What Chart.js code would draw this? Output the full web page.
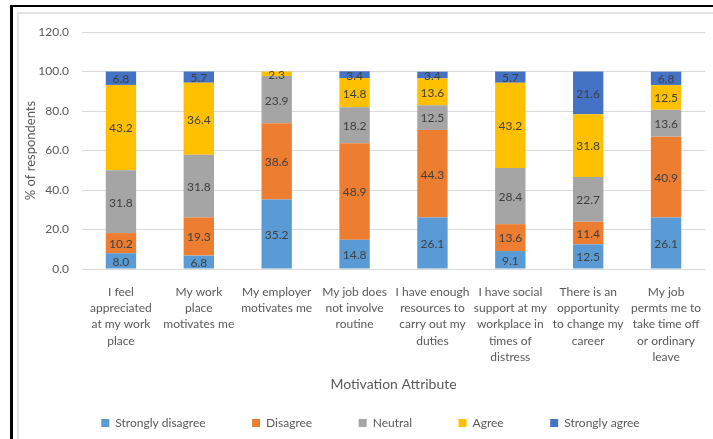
<!DOCTYPE html>
<html>
<head>
<meta charset="utf-8">
<script src="https://cdn.jsdelivr.net/npm/chart.js@4.4.0/dist/chart.umd.min.js"></script>
<style>
  body { margin: 0; background: #fff; }
  #wrap { position: relative; width: 713px; height: 439px; }
  .frame { position: absolute; right: 0; bottom: 0; pointer-events: none; }
  #outer { left: 10px; top: 5px; border-left: 3px solid #000; border-top: 2px solid #000; }
  #inner { left: 17px; top: 12px; border-left: 2px solid #e3e3e3; border-top: 2px solid #e3e3e3; }
</style>
</head>
<body>
<div id="wrap">
  <canvas id="chart"></canvas>
  <div class="frame" id="outer"></div>
  <div class="frame" id="inner"></div>
</div>
<script>
const categories = [
  ['I feel', 'appreciated', 'at my work', 'place'],
  ['My work', 'place', 'motivates me'],
  ['My employer', 'motivates me'],
  ['My job does', 'not involve', 'routine'],
  ['I have enough', 'resources to', 'carry out my', 'duties'],
  ['I have social', 'support at my', 'workplace in', 'times of', 'distress'],
  ['There is an', 'opportunity', 'to change my', 'career'],
  ['My job', 'permts me to', 'take time off', 'or ordinary', 'leave']
];
const stronglyDisagree = [8.0, 6.8, 35.2, 14.8, 26.1, 9.1, 12.5, 26.1];
const disagree         = [10.2, 19.3, 38.6, 48.9, 44.3, 13.6, 11.4, 40.9];
const neutral          = [31.8, 31.8, 23.9, 18.2, 12.5, 28.4, 22.7, 13.6];
const agree            = [43.2, 36.4, 2.3, 14.8, 13.6, 43.2, 31.8, 12.5];
const stronglyAgree    = [6.8, 5.7, 0, 3.4, 3.4, 5.7, 21.6, 6.8];
const yMin = 0, yMax = 120, yStep = 20;

const FONT = 'Lato, "Open Sans", sans-serif';

// writes the value in the middle of every segment
const segmentLabels = {
  id: 'segmentLabels',
  afterDatasetsDraw(chart) {
    const ctx = chart.ctx;
    ctx.save();
    ctx.font = '12px ' + FONT;
    ctx.fillStyle = '#404040';
    ctx.textAlign = 'center';
    ctx.textBaseline = 'middle';
    chart.data.datasets.forEach((ds, i) => {
      const meta = chart.getDatasetMeta(i);
      meta.data.forEach((bar, j) => {
        const v = ds.data[j];
        if (!v) return;
        ctx.fillText(v.toFixed(1), bar.x, (bar.y + bar.base) / 2 + 1);
      });
    });
    ctx.restore();
  }
};

function ds(label, data, color) {
  return { label, data, backgroundColor: color, borderWidth: 0 };
}

new Chart(document.getElementById('chart'), {
  type: 'bar',
  data: {
    labels: categories,
    datasets: [
      ds('Strongly disagree', stronglyDisagree, '#5B9BD5'),
      ds('Disagree', disagree, '#ED7D31'),
      ds('Neutral', neutral, '#A5A5A5'),
      ds('Agree', agree, '#FFC000'),
      ds('Strongly agree', stronglyAgree, '#4472C4')
    ]
  },
  options: {
    responsive: true,
    maintainAspectRatio: false,
    animation: false,
    datasets: { bar: { categoryPercentage: 1, barPercentage: 0.39 } },
    layout: { padding: { top: 32, left: 36, right: 8, bottom: 0 } },
    plugins: {
      tooltip: { enabled: false },
      legend: {
        position: 'bottom',
        labels: {
          boxWidth: 8,
          boxHeight: 8,
          padding: 12,
          color: '#595959',
          font: { family: FONT, size: 12 },
          generateLabels(chart) {
            const items = Chart.defaults.plugins.legend.labels.generateLabels(chart);
            items.forEach((it, i) => { if (i < items.length - 1) it.text += '\u2003\u2003\u2003\u2002\u2009'; });
            return items;
          }
        }
      }
    },
    scales: {
      x: {
        stacked: true,
        grid: { display: false },
        border: { display: false },
        ticks: {
          color: '#595959',
          padding: 7,
          maxRotation: 0,
          autoSkip: false,
          font: { family: FONT, size: 12, lineHeight: 1.35 }
        },
        title: {
          display: true,
          text: 'Motivation Attribute',
          color: '#595959',
          font: { family: FONT, size: 14 },
          padding: { top: 4, bottom: 12 }
        },
        afterFit(scale) { scale.height = 136; }
      },
      y: {
        stacked: true,
        min: yMin,
        max: yMax,
        border: { display: false },
        grid: { color: '#d9d9d9', drawTicks: false },
        ticks: {
          stepSize: yStep,
          padding: 13,
          color: '#595959',
          font: { family: FONT, size: 12 },
          callback: v => Number(v).toFixed(1)
        },
        title: {
          display: true,
          text: '% of respondents',
          color: '#595959',
          font: { family: FONT, size: 13 },
          padding: { top: -13, bottom: 0 }
        },
        afterFit(scale) { scale.width = 46; }
      }
    }
  },
  plugins: [segmentLabels]
});
</script>
</body>
</html>
